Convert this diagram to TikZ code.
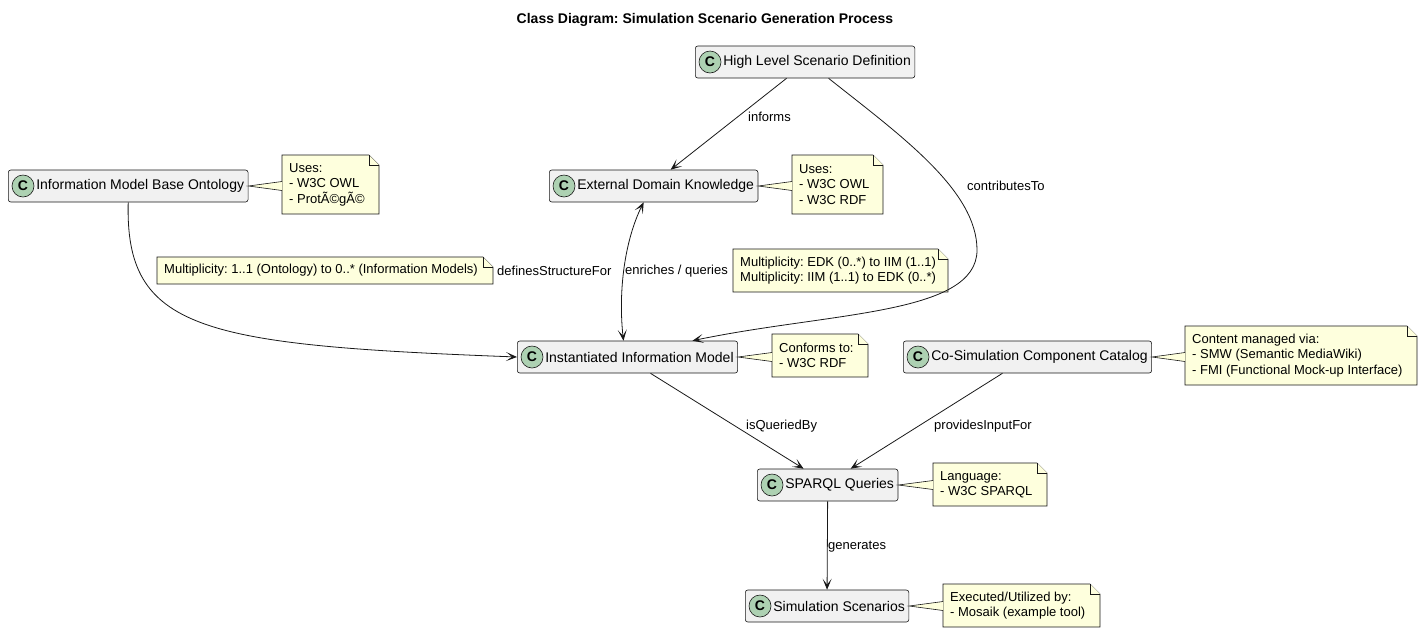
\documentclass[tikz,border=0pt]{standalone}
\usepackage{fontspec}
\setmainfont{Liberation Sans}
\usetikzlibrary{arrows.meta,calc}
\definecolor{clsfill}{HTML}{F1F1F1}
\definecolor{clsline}{HTML}{181818}
\definecolor{spotfill}{HTML}{ADD1B2}
\definecolor{notefill}{HTML}{FEFFDD}
\frenchspacing

\begin{document}
\begin{tikzpicture}
            [x=1pt, y=-1pt,
             cls/.style={draw=clsline, fill=clsfill, rounded corners=2.5pt, line width=0.6pt,
                         minimum height=32pt, inner xsep=4pt, anchor=west, font=\fontsize{14}{16}\selectfont},
             spot/.style={circle, draw=clsline, fill=spotfill, line width=0.6pt, minimum size=22pt,
                          inner sep=0pt, font=\fontsize{14}{16}\selectfont\bfseries},
             notebox/.style={draw=clsline, fill=notefill, line width=0.6pt},
             notetext/.style={anchor=west, align=left, inner sep=0pt, font=\fontsize{13}{15.5}\selectfont},
             lbl/.style={inner sep=0pt, anchor=west, font=\fontsize{13}{15}\selectfont},
             arr/.style={draw=clsline, line width=0.8pt, -{Stealth[length=11pt,width=9pt,inset=6pt]}},
             arrboth/.style={draw=clsline, line width=0.8pt,
                             {Stealth[length=11pt,width=9pt,inset=6pt]}-{Stealth[length=11pt,width=9pt,inset=6pt]}}]
            \useasboundingbox (0,0) rectangle (1423,633);
            \node [font=\fontsize{14}{16}\selectfont\bfseries] (title) at (705,20) {Class Diagram: Simulation Scenario Generation Process};
            \foreach \n/\x/\y/\t in {hlsd/695/62/High Level Scenario Definition,
                                     imbo/8/186/Information Model Base Ontology,
                                     edk/549/186/External Domain Knowledge,
                                     iim/517/357/Instantiated Information Model,
                                     cscc/903/357/Co-Simulation Component Catalog,
                                     spq/757/485/SPARQL Queries,
                                     sims/745/606/Simulation Scenarios}
            {
                \node [cls] (\n) at (\x,\y) {\hspace*{24pt}\t};
                \node [spot] (\n spot) at ([xshift=15pt]\n.west) {C};
            }
            \foreach \n/\x/\y/\w/\h/\t in {imbonote/282/155/97/59/{Uses:\\- W3C OWL\\- ProtÃ©gÃ©},
                                          edknote/792/155/91/59/{Uses:\\- W3C OWL\\- W3C RDF},
                                          multone/157/257/336/27/{Multiplicity: 1..1 (Ontology) to 0..* (Information Models)},
                                          multtwo/733/249/215/43/{Multiplicity: EDK (0..*) to IIM (1..1)\\Multiplicity: IIM (1..1) to EDK (0..*)},
                                          iimnote/772/334/96/43/{Conforms to:\\- W3C RDF},
                                          csccnote/1185/326/232/59/{Content managed via:\\- SMW (Semantic MediaWiki)\\- FMI (Functional Mock-up Interface)},
                                          spqnote/933/463/114/43/{Language:\\- W3C SPARQL},
                                          simsnote/943/584/157/43/{Executed/Utilized by:\\- Mosaik (example tool)}}
            {
                \draw [notebox] (\x,\y) -- ++(\w-10,0) -- ++(10,10) -- ++(0,\h-10) -- ++(-\w,0) -- cycle;
                \draw [notebox] (\x+\w-10,\y) -- ++(0,10) -- ++(10,0);
                \coordinate (\n) at (\x,\y+\h/2);
                \node [notetext] (\n text) at (\x+7,\y+\h/2) {\t};
            }
            \foreach \n/\c in {imbonote/imbo, edknote/edk, iimnote/iim, csccnote/cscc, spqnote/spq, simsnote/sims}
                \draw [notebox] ($(\c.east -| \n)+(0,-4.5)$) -- (\c.east) -- ($(\c.east -| \n)+(0,4.5)$);
            \draw [arr] ([xshift=-18.5pt]hlsd.south) -- ([xshift=17pt]edk.north);
            \draw [arr] ([xshift=23.5pt]hlsd.south) .. controls (900,135) and (977,190) .. (977,250)
                        .. controls (977,315) and (830,312) .. ([xshift=65pt]iim.north);
            \draw [arr] (imbo.south) .. controls (125,330) and (200,345) .. (iim.west);
            \draw [arrboth] ([xshift=-10pt]edk.south) .. controls (625,240) and (618,290) .. ([xshift=-4pt]iim.north);
            \draw [arr] ([xshift=23pt]iim.south) -- ([xshift=-24pt]spq.north);
            \draw [arr] ([xshift=-25pt]cscc.south) -- ([xshift=23pt]spq.north);
            \draw [arr] (spq.south) -- (sims.north);
            \node [lbl] (linforms) at (748,117) {informs};
            \node [lbl] (lcontributes) at (967,186) {contributesTo};
            \node [lbl] (ldefines) at (497,271) {definesStructureFor};
            \node [lbl] (lenriches) at (625,271) {enriches / queries};
            \node [lbl] (lqueried) at (746,426) {isQueriedBy};
            \node [lbl] (lprovides) at (934,426) {providesInputFor};
            \node [lbl] (lgenerates) at (828,547) {generates};
        \end{tikzpicture}
\end{document}
